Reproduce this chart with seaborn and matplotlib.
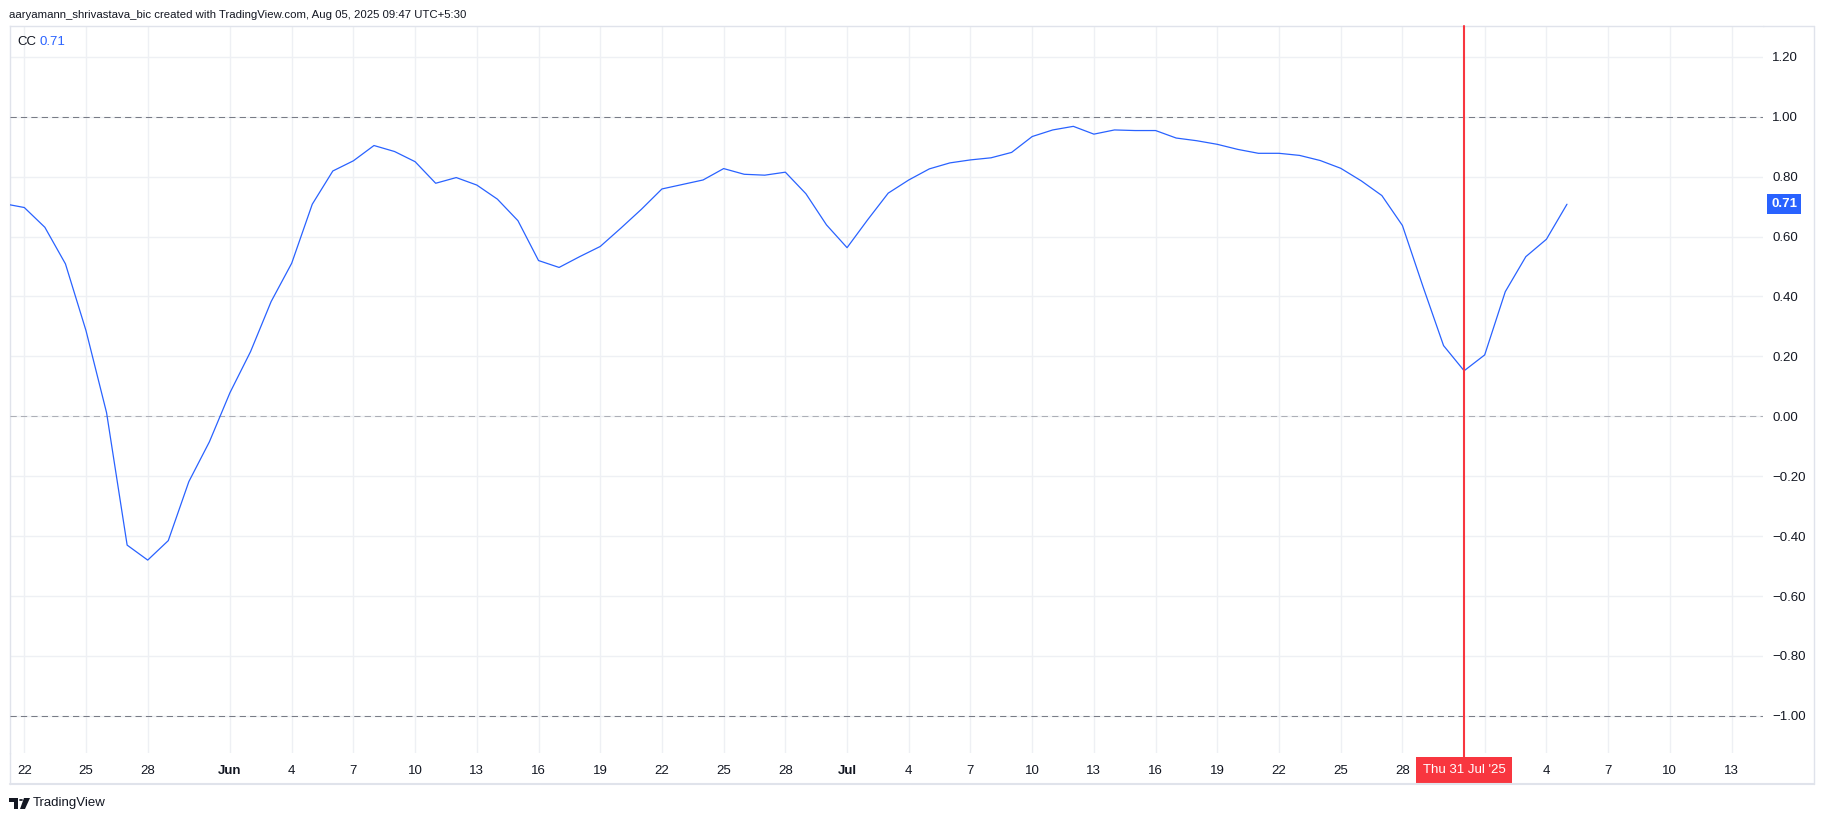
import matplotlib
matplotlib.use("Agg")
import matplotlib.pyplot as plt
import matplotlib.dates as mdates
from matplotlib.transforms import blended_transform_factory
from matplotlib.lines import Line2D
from matplotlib.patches import Rectangle, Circle, Polygon
import seaborn as sns
import pandas as pd

# ---------------- data ----------------
start_date = "2025-05-21"
cc_values = [
    # May 21 - May 31
    0.710, 0.697, 0.631, 0.509, 0.286, 0.012, -0.430, -0.480, -0.415, -0.218, -0.085,
    # Jun 1 - Jun 30
    0.079, 0.216, 0.383, 0.511, 0.708, 0.819, 0.853, 0.904, 0.884, 0.850,
    0.778, 0.797, 0.772, 0.725, 0.653, 0.520, 0.497, 0.533, 0.567, 0.628,
    0.691, 0.759, 0.774, 0.789, 0.827, 0.808, 0.805, 0.815, 0.743, 0.639,
    # Jul 1 - Jul 31
    0.563, 0.656, 0.745, 0.789, 0.826, 0.846, 0.856, 0.863, 0.881, 0.934,
    0.956, 0.968, 0.942, 0.956, 0.954, 0.954, 0.929, 0.920, 0.908, 0.891,
    0.878, 0.878, 0.871, 0.854, 0.828, 0.786, 0.737, 0.637, 0.433, 0.236,
    0.152,
    # Aug 1 - Aug 5
    0.205, 0.416, 0.533, 0.591, 0.708,
]
last_value_label = "0.71"
marker_date = "2025-07-31"
marker_label = "Thu 31 Jul '25"

tick_dates = [
    "2025-05-22", "2025-05-25", "2025-05-28",
    "2025-06-01", "2025-06-04", "2025-06-07", "2025-06-10", "2025-06-13", "2025-06-16",
    "2025-06-19", "2025-06-22", "2025-06-25", "2025-06-28",
    "2025-07-01", "2025-07-04", "2025-07-07", "2025-07-10", "2025-07-13", "2025-07-16",
    "2025-07-19", "2025-07-22", "2025-07-25", "2025-07-28",
    "2025-08-01", "2025-08-04", "2025-08-07", "2025-08-10", "2025-08-13",
]
# the Aug 1 label is hidden behind the crosshair date label in the reference
tick_labels = [
    "22", "25", "28",
    "Jun", "4", "7", "10", "13", "16", "19", "22", "25", "28",
    "Jul", "4", "7", "10", "13", "16", "19", "22", "25", "28",
    "", "4", "7", "10", "13",
]
month_labels = ["Jun", "Jul", "Aug"]
y_ticks = [1.2, 1.0, 0.8, 0.6, 0.4, 0.2, 0.0, -0.2, -0.4, -0.6, -0.8, -1.0]
y_labels = ["1.20", "1.00", "0.80", "0.60", "0.40", "0.20", "0.00",
            "\u22120.20", "\u22120.40", "\u22120.60", "\u22120.80", "\u22121.00"]
band_levels = [1.0, -1.0]
zero_level = 0.0
title_text = "aaryamann_shrivastava_bic created with TradingView.com, Aug 05, 2025 09:47 UTC+5:30"
legend_name = "CC"

# ---------------- style ----------------
sns.set_theme(style="white")
plt.rcParams["font.family"] = ["Liberation Sans", "DejaVu Sans"]
plt.rcParams["axes.unicode_minus"] = True

W, H = 1825, 819
def fx(px):
    return px / W
def fy(py):
    return 1 - py / H

LINE_BLUE = "#2962FF"
TXT = "#131722"
GRID = "#EEF0F4"
BORDER = "#E0E3EB"
RED = "#F8363F"

fig = plt.figure(figsize=(W / 100, H / 100), dpi=100, facecolor="white")
ax_left, ax_right, ax_top, ax_bottom = 10, 1763, 26, 753
ax = fig.add_axes([fx(ax_left), fy(ax_bottom), (ax_right - ax_left) / W, (ax_bottom - ax_top) / H])
ax.set_facecolor("white")

df = pd.DataFrame({
    "date": pd.date_range(start_date, periods=len(cc_values), freq="D"),
    "cc": cc_values,
})

sns.lineplot(data=df, x="date", y="cc", ax=ax, color=LINE_BLUE, linewidth=0.9, zorder=5)

# limits
x0 = mdates.date2num(pd.Timestamp("2025-05-21")) + 0.305
x1 = mdates.date2num(pd.Timestamp("2025-05-22")) + 84.53
ax.set_xlim(x0, x1)
ax.set_ylim(-1.124, 1.303)

# ticks
ax.set_xticks([mdates.date2num(pd.Timestamp(d)) for d in tick_dates])
ax.set_xticklabels(tick_labels)
for lbl in ax.get_xticklabels():
    if lbl.get_text() in month_labels:
        lbl.set_fontweight("bold")
ax.set_yticks(y_ticks)
ax.set_yticklabels(y_labels)
ax.yaxis.tick_right()
ax.tick_params(axis="y", length=0, pad=6.5, labelsize=9.5, labelcolor=TXT)
ax.tick_params(axis="x", length=0, pad=8.5, labelsize=9.5, labelcolor=TXT)
ax.set_xlabel("")
ax.set_ylabel("")

ax.grid(True, color=GRID, linewidth=1.0)
ax.set_axisbelow(True)
for s in ["right", "bottom"]:
    ax.spines[s].set_visible(False)
for s in ["left", "top"]:
    ax.spines[s].set_color(BORDER)
    ax.spines[s].set_linewidth(1.0)

# band lines
for lvl in band_levels:
    ax.axhline(lvl, color="#787B86", linewidth=0.75, linestyle=(0, (6, 4)), zorder=3)
ax.axhline(zero_level, color="#787B86", alpha=0.55, linewidth=0.75, linestyle=(0, (6, 4)), zorder=3)

# crosshair marker
mx = mdates.date2num(pd.Timestamp(marker_date))
ax.axvline(mx, ymin=-0.008, ymax=1, color=RED, linewidth=1.5, zorder=6, clip_on=False)
trans_xd = blended_transform_factory(ax.transData, ax.transAxes)
ax.text(mx, -0.0235, marker_label, transform=trans_xd, ha="center", va="center",
        fontsize=9.5, color="white", zorder=10, clip_on=False,
        bbox=dict(boxstyle="square,pad=0.5", fc=RED, ec="none"))

# last value label on price axis
trans_ad = blended_transform_factory(ax.transAxes, ax.transData)
ax.text(1.0048, cc_values[-1], last_value_label, transform=trans_ad, ha="left", va="center",
        fontsize=9.5, color="white", fontweight="bold", zorder=10, clip_on=False,
        bbox=dict(boxstyle="square,pad=0.3", fc=LINE_BLUE, ec="none"))

# outer frame lines
fig.add_artist(Line2D([fx(ax_right), fx(1814)], [fy(26), fy(26)], color=BORDER, lw=1.0))
fig.add_artist(Line2D([fx(1814), fx(1814)], [fy(26), fy(784)], color=BORDER, lw=1.0))
fig.add_artist(Line2D([fx(10), fx(1814)], [fy(784), fy(784)], color=BORDER, lw=1.5))
fig.add_artist(Line2D([fx(10), fx(10)], [fy(753), fy(784)], color=BORDER, lw=1.0))

# header texts
fig.text(fx(9), fy(15), title_text, fontsize=8.2, color=TXT, ha="left", va="center")
fig.text(fx(17), fy(42), legend_name, fontsize=9.5, color=TXT, ha="left", va="center")
fig.text(fx(40), fy(42), last_value_label, fontsize=9.5, color=LINE_BLUE, ha="left", va="center")

# TradingView logo (simple shapes) + wordmark
fig.add_artist(Rectangle((fx(9), fy(802)), 9 / W, 4 / H, transform=fig.transFigure, fc=TXT, ec="none"))
fig.add_artist(Rectangle((fx(14), fy(809)), 4 / W, 11 / H, transform=fig.transFigure, fc=TXT, ec="none"))
fig.add_artist(Circle((fx(21), fy(800)), 2 / W, transform=fig.transFigure, fc=TXT, ec="none"))
fig.add_artist(Polygon([(fx(24), fy(798)), (fx(30), fy(798)), (fx(25), fy(809)), (fx(20), fy(809))],
                       closed=True, transform=fig.transFigure, fc=TXT, ec="none"))
fig.text(fx(33), fy(803), "TradingView", fontsize=9.5, color=TXT, ha="left", va="center")

fig.savefig("out.png", dpi=100, facecolor="white")
